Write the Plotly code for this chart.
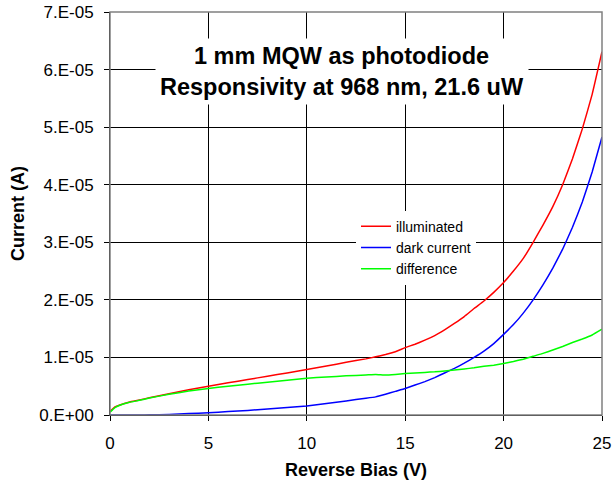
import plotly.graph_objects as go

bias_v = [0, 0.25, 0.5, 1, 1.5, 2, 3, 4, 5, 6, 7, 8, 9, 10, 11, 12, 13, 13.5, 14, 14.5, 15,
          15.5, 16, 16.5, 17, 17.5, 18, 18.5, 19, 19.5, 20, 20.5, 21, 21.5, 22, 22.5, 23,
          23.5, 24, 24.5, 25]

illuminated = [0.6e-6, 1.4e-6, 1.75e-6, 2.25e-6, 2.6e-6, 3.0e-6, 3.7e-6, 4.4e-6, 5.0e-6, 5.6e-6,
               6.15e-6, 6.75e-6, 7.3e-6, 7.9e-6, 8.5e-6, 9.15e-6, 9.75e-6, 1.01e-5, 1.05e-5, 1.1e-5,
               1.17e-5, 1.23e-5, 1.3e-5, 1.38e-5, 1.48e-5, 1.59e-5, 1.71e-5, 1.85e-5, 1.98e-5, 2.13e-5,
               2.3e-5, 2.5e-5, 2.72e-5, 3.0e-5, 3.3e-5, 3.62e-5, 4.0e-5, 4.45e-5, 4.97e-5, 5.57e-5,
               6.31e-5]

dark_current = [0, 0, 0, 0, 0.01e-6, 0.03e-6, 0.1e-6, 0.25e-6, 0.4e-6, 0.6e-6,
                0.8e-6, 1.05e-6, 1.3e-6, 1.55e-6, 2.0e-6, 2.45e-6, 2.9e-6, 3.15e-6, 3.6e-6, 4.1e-6,
                4.6e-6, 5.2e-6, 5.8e-6, 6.5e-6, 7.3e-6, 8.1e-6, 9.0e-6, 1.0e-5, 1.11e-5, 1.24e-5,
                1.4e-5, 1.57e-5, 1.77e-5, 2.0e-5, 2.26e-5, 2.55e-5, 2.88e-5, 3.26e-5, 3.7e-5, 4.22e-5,
                4.83e-5]

difference = [0.5e-6, 1.3e-6, 1.7e-6, 2.2e-6, 2.55e-6, 2.95e-6, 3.6e-6, 4.15e-6, 4.6e-6, 5.0e-6,
              5.35e-6, 5.7e-6, 6.05e-6, 6.4e-6, 6.6e-6, 6.8e-6, 6.95e-6, 7.05e-6, 6.95e-6, 7.05e-6,
              7.2e-6, 7.3e-6, 7.4e-6, 7.5e-6, 7.65e-6, 7.8e-6, 8.0e-6, 8.2e-6, 8.45e-6, 8.65e-6,
              8.95e-6, 9.3e-6, 9.7e-6, 1.02e-5, 1.07e-5, 1.13e-5, 1.19e-5, 1.26e-5, 1.32e-5, 1.39e-5,
              1.49e-5]

y_tick_vals = [0, 1e-5, 2e-5, 3e-5, 4e-5, 5e-5, 6e-5, 7e-5]
y_tick_text = ["0.E+00", "1.E-05", "2.E-05", "3.E-05", "4.E-05", "5.E-05", "6.E-05", "7.E-05"]
x_tick_vals = [0, 5, 10, 15, 20, 25]

series = [
    ("illuminated", illuminated, "#FF0000"),
    ("dark current", dark_current, "#0000FF"),
    ("difference", difference, "#00FF00"),
]

fig = go.Figure()
for name, vals, color in series:
    fig.add_trace(go.Scatter(x=bias_v, y=vals, mode="lines", name=name,
                             line=dict(color=color, width=1.5, shape="spline", smoothing=0.3)))

font_family = "Liberation Sans, Arial, sans-serif"

fig.update_layout(
    width=612, height=480,
    margin=dict(l=110, r=10, t=12, b=65),
    paper_bgcolor="white", plot_bgcolor="white",
    font=dict(family=font_family, color="black", size=17),
    showlegend=True,
    legend=dict(x=0.50, y=0.507, xanchor="left", yanchor="top",
                bgcolor="white", borderwidth=0, font=dict(size=14, family=font_family),
                itemwidth=30, tracegroupgap=0),
    xaxis=dict(range=[0, 25], tickvals=x_tick_vals, showgrid=True, gridcolor="black", gridwidth=1,
               showline=True, linecolor="black", linewidth=1, ticks="outside", ticklen=5,
               tickcolor="black", zeroline=False, tickfont=dict(size=17), automargin=False,
               ticklabelstandoff=8, ticklabeloverflow="allow",
               title=dict(text="<b>Reverse Bias (V)</b>", font=dict(size=18), standoff=10)),
    yaxis=dict(range=[0, 7e-5], tickvals=y_tick_vals, ticktext=y_tick_text, showgrid=True,
               gridcolor="black", gridwidth=1, showline=True, linecolor="black", linewidth=1,
               ticks="outside", ticklen=5, tickcolor="black", zeroline=False, tickfont=dict(size=17),
               automargin=False, ticklabelstandoff=7, ticklabeloverflow="allow",
               title=dict(text="<b>Current (A)</b>", font=dict(size=18), standoff=9)),
    shapes=[dict(type="rect", xref="x domain", yref="y domain", x0=0, x1=1, y0=0, y1=1,
                 line=dict(color="#808080", width=1.5), layer="above")],
    annotations=[dict(text="<b>1 mm MQW as photodiode<br>Responsivity at 968 nm, 21.6 uW</b>",
                      x=0.4715, y=0.8525, xref="paper", yref="paper", xanchor="center", yanchor="middle",
                      showarrow=False, bgcolor="white", borderpad=4,
                      font=dict(size=23.5, family=font_family, color="black"))],
)

# remove the page's default body margin so the 612x480 figure fills the window exactly
fig.write_html("out.html", config={"displayModeBar": False},
               post_script="document.body.style.margin='0';")
